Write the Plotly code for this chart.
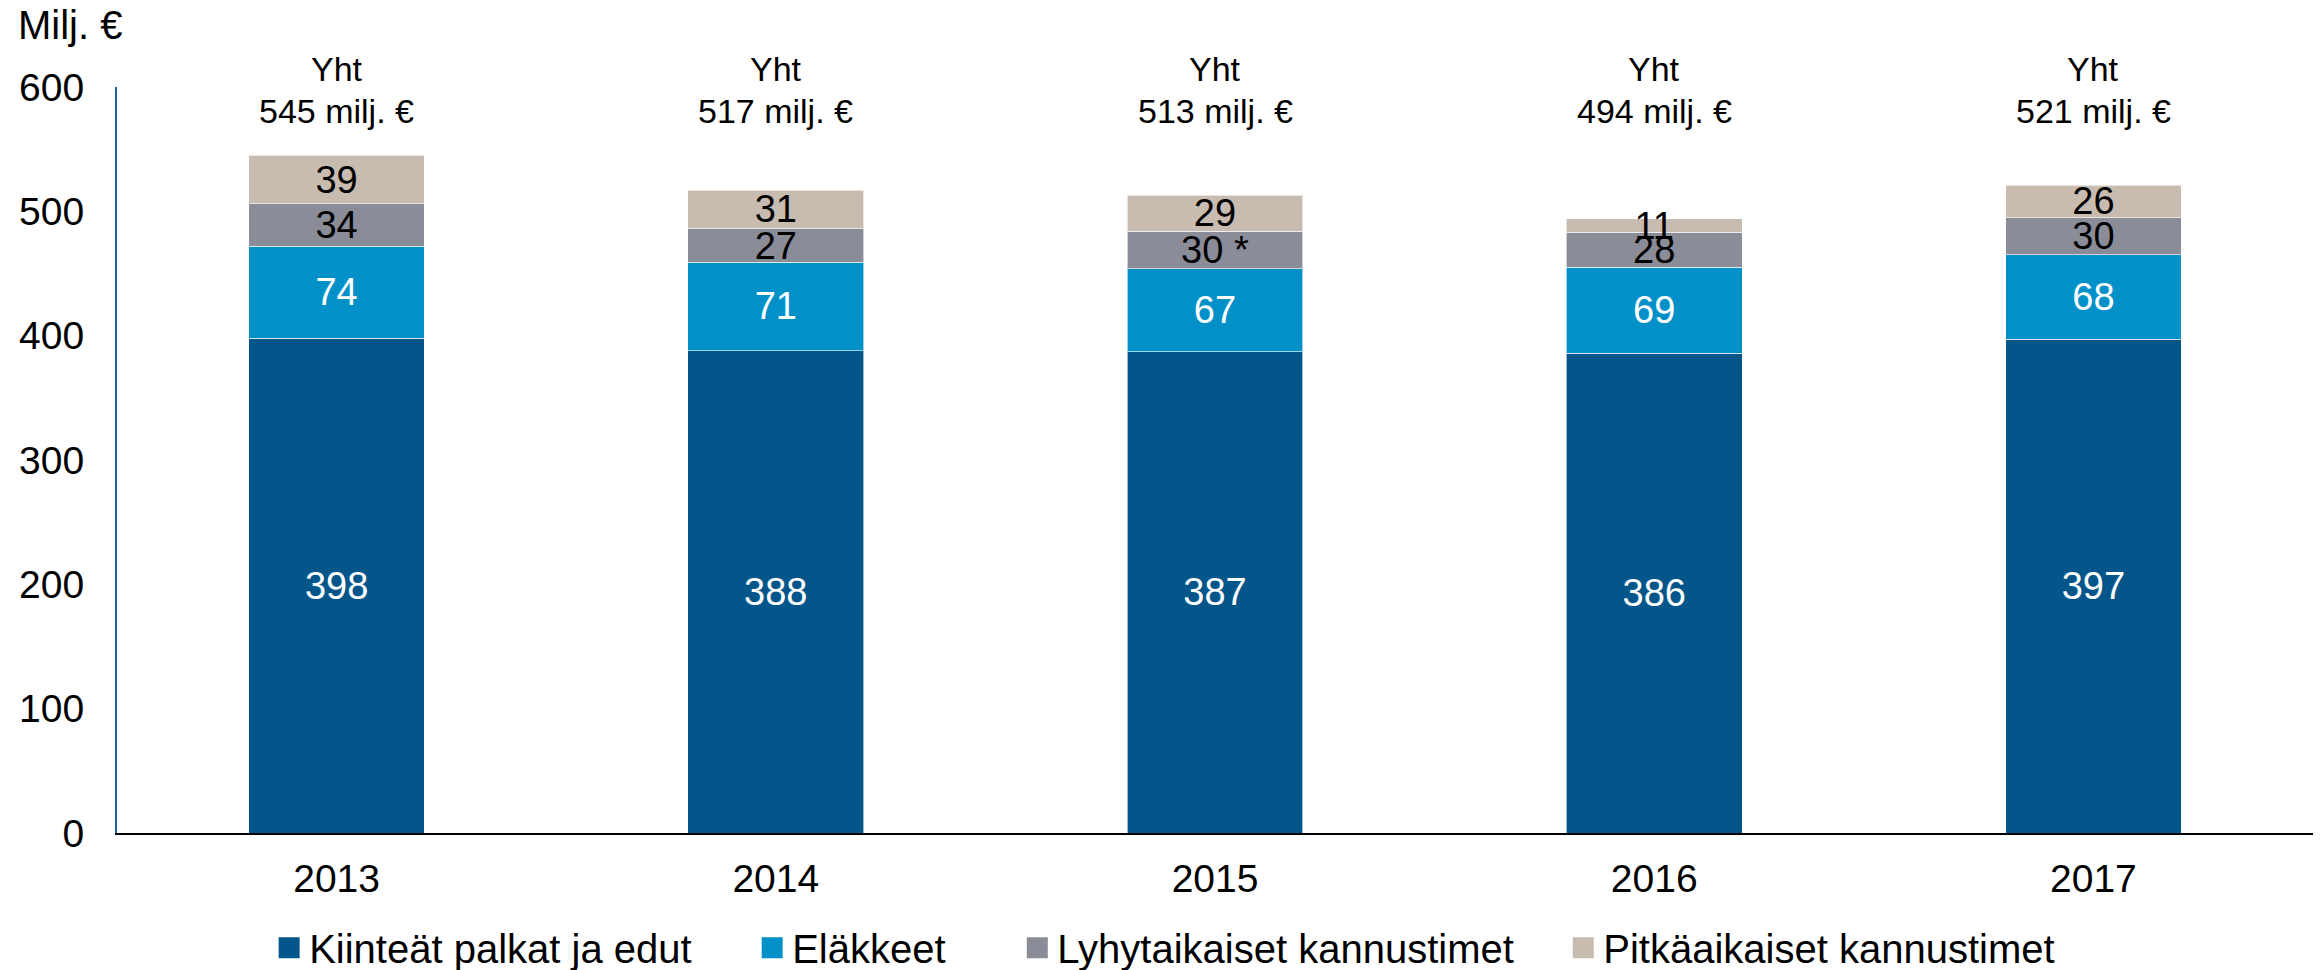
import plotly.graph_objects as go

years = ["2013", "2014", "2015", "2016", "2017"]
kiinteat = [398, 388, 387, 386, 397]
elakkeet = [74, 71, 67, 69, 68]
lyhyt = [34, 27, 30, 28, 30]
pitka = [39, 31, 29, 11, 26]
lyhyt_labels = ["34", "27", "30 *", "28", "30"]

NB = "\u00a0"
series = [
    ("Kiinteät palkat ja edut", NB * 5, kiinteat, "#03558A", "white", [str(v) for v in kiinteat]),
    ("Eläkkeet", NB * 6, elakkeet, "#0191C8", "white", [str(v) for v in elakkeet]),
    ("Lyhytaikaiset kannustimet", NB * 4, lyhyt, "#8A8C98", "black", lyhyt_labels),
    ("Pitkäaikaiset kannustimet", "", pitka, "#C8BCB1", "black", [str(v) for v in pitka]),
]

FONT = "Arial, Liberation Sans, sans-serif"
FS_BAR = 38
FS_TICK = 39
FS_TOT = 34
FS_LEG = 40

fig = go.Figure()
for name, pad, vals, color, tcolor, labels in series:
    fig.add_trace(go.Bar(
        x=years, y=vals, name=name, showlegend=False,
        marker=dict(color=color, line=dict(color="rgba(255,255,255,0.6)", width=1)),
        text=labels, textposition="inside", insidetextanchor="middle",
        textangle=0, constraintext="none",
        textfont=dict(color=tcolor, size=FS_BAR, family=FONT),
        width=0.4, hoverinfo="skip",
    ))
# legend entries (square swatches) for the four series
for name, pad, vals, color, tcolor, labels in series:
    fig.add_trace(go.Scatter(
        x=[None], y=[None], mode="markers", name=name + pad,
        marker=dict(symbol="square", size=16, color=color, line=dict(color=color, width=5)),
        hoverinfo="skip",
    ))

totals = [a + b + c + d for a, b, c, d in zip(kiinteat, elakkeet, lyhyt, pitka)]
annotations = []
for i, t in enumerate(totals):
    annotations.append(dict(x=i, y=1.0245, xref="x", yref="paper", text="Yht", yanchor="middle",
                            showarrow=False, font=dict(size=FS_TOT, color="black", family=FONT)))
    annotations.append(dict(x=i, y=0.968, xref="x", yref="paper", text=f"{t} milj. €", yanchor="middle",
                            showarrow=False, font=dict(size=FS_TOT, color="black", family=FONT)))
annotations.append(dict(x=-0.046, y=1.0835, xref="paper", yref="paper", text="Milj. €", showarrow=False,
                        xanchor="left", yanchor="middle", font=dict(size=40, color="black", family=FONT)))

fig.update_layout(
    barmode="stack",
    width=2320, height=970,
    margin=dict(l=117, r=7, t=87, b=137),
    plot_bgcolor="white", paper_bgcolor="white",
    font=dict(family=FONT, size=FS_TICK, color="black"),
    showlegend=True,
    legend=dict(orientation="h", x=0.502, xanchor="center", xref="container",
                y=0.023, yref="container", yanchor="middle",
                font=dict(size=FS_LEG, family=FONT), traceorder="normal",
                itemwidth=30),
    annotations=annotations,
    xaxis=dict(type="category", range=[-0.5, 4.5], showline=True, linecolor="black", linewidth=2,
               ticks="", showgrid=False, tickfont=dict(size=FS_TICK), ticklabelstandoff=10),
    yaxis=dict(range=[0, 600], tickvals=[0, 100, 200, 300, 400, 500, 600], showline=True,
               linecolor="#1F5E93", linewidth=2, ticks="", showgrid=False, zeroline=False,
               tickfont=dict(size=FS_TICK), ticklabelstandoff=23),
)
fig.write_html("out.html", config={"displayModeBar": False},
               post_script="document.body.style.margin='0px';")
